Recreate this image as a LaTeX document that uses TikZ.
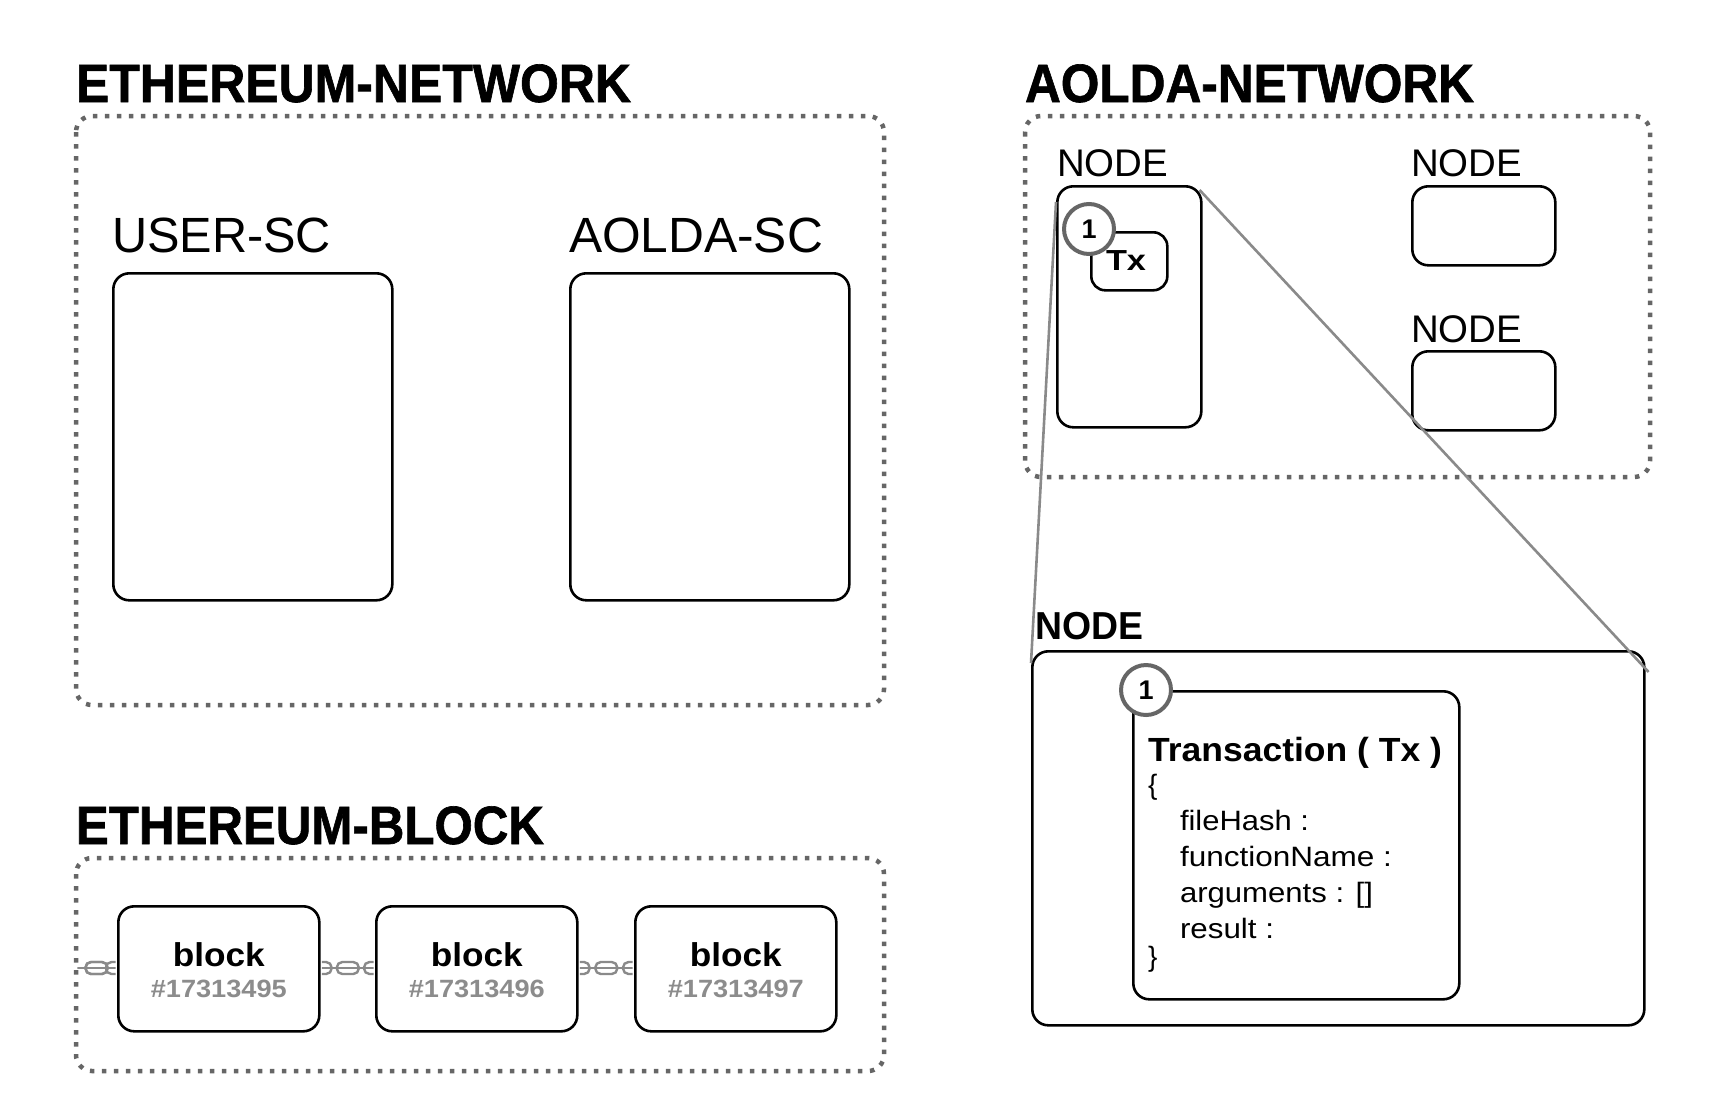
\documentclass[tikz,border=0pt]{standalone}
\usepackage{fontspec}
\usepackage{graphicx}
\setmainfont{Liberation Sans}
\newfontfamily\heavyfont{Liberation Sans}[FakeBold=1.2]
\usetikzlibrary{calc}
\definecolor{dashgray}{HTML}{666666}
\definecolor{linegray}{HTML}{8A8A8A}
\definecolor{numgray}{HTML}{8C8C8C}
\newcommand{\fitw}[2]{\resizebox{#1pt}{\height}{#2}}
\tikzset{
  grp/.style={draw=dashgray, line width=4.5pt, dash pattern=on 4.5pt off 7.5pt, rounded corners=16pt},
  box/.style={draw=black, line width=2.6pt, rounded corners=16pt, inner sep=0pt, anchor=north west},
  lbl/.style={anchor=base west, inner sep=0pt, outer sep=0pt},
  title/.style={lbl, font=\heavyfont\fontsize{54}{60}\selectfont\bfseries},
  sclbl/.style={lbl, font=\fontsize{49.5}{56}\selectfont},
  nodelbl/.style={lbl, font=\fontsize{38.5}{44}\selectfont},
  num/.style={circle, draw=dashgray, line width=4pt, fill=white, minimum size=50pt, inner sep=0pt, font=\fontsize{27}{30}\selectfont\bfseries},
  zoomline/.style={draw=linegray, line width=2.6pt},
  chain/.style={draw=linegray, line width=2.4pt},
  field/.style={lbl, font=\fontsize{28}{32}\selectfont}
}
\begin{document}
\begin{tikzpicture}[x=1pt, y=-1pt]
\useasboundingbox (0,0) rectangle (1728,1117);
% ---------- Ethereum network ----------
\node[title] (ethtitle) at (76,102) {\fitw{555}{ETHEREUM-NETWORK}};
\draw[grp] (76,116) rectangle (884,705);
\node[sclbl] (userlbl) at (112,252) {\fitw{219}{USER-SC}};
\node[box, minimum width=279pt, minimum height=327pt] (usersc) at (112,272) {};
\node[sclbl] (aoldalbl) at (569,252) {\fitw{254}{AOLDA-SC}};
\node[box, minimum width=279pt, minimum height=327pt] (aoldasc) at (569,272) {};
% ---------- Ethereum block ----------
\node[title] (blktitle) at (76,844) {\fitw{468}{ETHEREUM-BLOCK}};
\draw[grp] (76,858) rectangle (884,1071);
\foreach \i/\x/\n in {1/117/17313495, 2/375/17313496, 3/634/17313497}{
  \node[box, minimum width=201pt, minimum height=125pt] (b\i) at (\x,905) {};
  \node[anchor=base, inner sep=0pt, font=\fontsize{33}{38}\selectfont\bfseries] (bt\i) at ($(b\i.north)+(0,61)$) {\fitw{92}{block}};
  \node[anchor=base, inner sep=0pt, text=numgray, font=\fontsize{25}{30}\selectfont\bfseries] (bn\i) at ($(b\i.north)+(0,92)$) {\fitw{136}{\#\n}};
}
\coordinate (cl) at (76,968);
\foreach \a/\b/\s in {cl/b1/0.5, b1/b2/0, b2/b3/0}{
  \path (\a.east |- 0,968) coordinate (ca) (\b.west |- 0,968) coordinate (cb);
  \begin{scope}
    \clip ($(ca)+(1.3,-12)$) rectangle ($(cb)+(-1.3,12)$);
    \draw[chain] (ca) -- (cb);
    \foreach \f in {\s,0.5,1}{
      \draw[chain, rounded corners=5.5pt] ($(ca)!\f!(cb)+(-11,-6)$) rectangle ($(ca)!\f!(cb)+(11,6)$);
    }
  \end{scope}
}
% ---------- Aolda network ----------
\node[title] (aoldatitle) at (1025,102) {\fitw{449}{AOLDA-NETWORK}};
\draw[grp] (1025,116) rectangle (1650,477);
\node[nodelbl] (n1lbl) at (1057,176) {\fitw{111}{NODE}};
\node[box, minimum width=144pt, minimum height=241pt] (n1) at (1056,185) {};
\node[box, minimum width=76pt, minimum height=58pt, rounded corners=14pt] (tx) at (1090,231) {};
\node[anchor=base, inner sep=0pt, font=\fontsize{29}{34}\selectfont\bfseries] (txt) at (1126,270) {\fitw{40}{Tx}};
\node[num] (c1) at (1089,229) {1};
\node[nodelbl] (n2lbl) at (1411,176) {\fitw{111}{NODE}};
\node[box, minimum width=143pt, minimum height=79pt] (n2) at (1411,185) {};
\node[nodelbl] (n3lbl) at (1411,342) {\fitw{111}{NODE}};
\node[box, minimum width=143pt, minimum height=79pt] (n3) at (1411,350) {};
% ---------- zoomed node ----------
\node[lbl, font=\fontsize{39}{44}\selectfont\bfseries] (bigtitle) at (1035,639) {\fitw{108}{NODE}};
\node[box, minimum width=612pt, minimum height=374pt] (big) at (1031,650) {};
\node[box, minimum width=326pt, minimum height=308pt] (trans) at (1132,690) {};
\node[num] (c2) at (1146,690) {1};
\node[lbl, font=\fontsize{33.5}{40}\selectfont\bfseries] (t0) at (1148,761) {\fitw{294}{Transaction ( Tx )}};
\node[field] (t1) at (1148,794) {\{};
\node[field] (t2) at (1180,830) {\fitw{129}{fileHash :}};
\node[field] (t3) at (1180,866) {\fitw{212}{functionName :}};
\node[field] (t4) at (1180,902) {\fitw{193}{arguments : []}};
\node[field] (t5) at (1180,938) {\fitw{94}{result :}};
\node[field] (t6) at (1148,966) {\}};
% zoom lines
\draw[zoomline] ($(n1.north west)+(0,17)$) -- ($(big.north west)+(0,13)$);
\draw[zoomline] ($(n1.north east)+(-3,5)$) -- ($(big.north east)+(3,22)$);
\end{tikzpicture}
\end{document}
